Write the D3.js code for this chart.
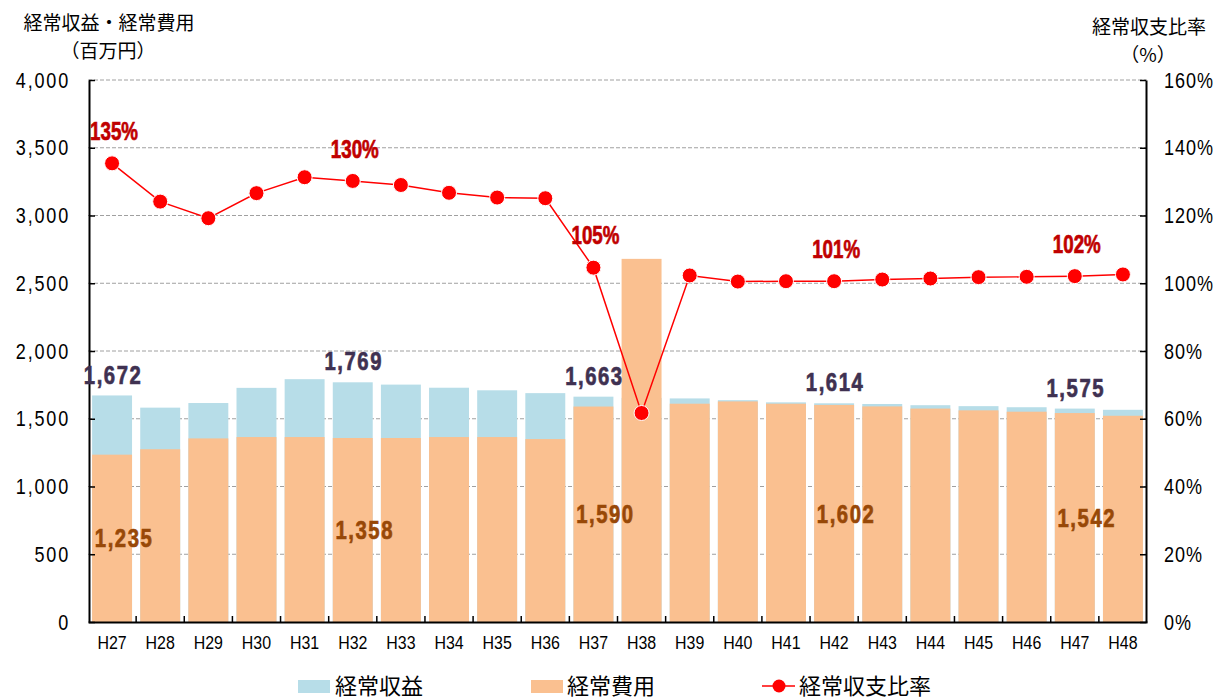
<!DOCTYPE html>
<html><head><meta charset="utf-8">
<script src="https://cdn.jsdelivr.net/npm/d3@7"></script>
<style>
body{margin:0;background:#fff;}
svg{display:block;}
.jp{font-family:"Noto Sans CJK JP","Noto Sans",sans-serif;}
.ls{font-family:"Liberation Sans",Arial,sans-serif;}
</style></head>
<body><svg id="c" width="1217" height="700"></svg>
<script>
const categories = ["H27","H28","H29","H30","H31","H32","H33","H34","H35","H36","H37","H38","H39","H40","H41","H42","H43","H44","H45","H46","H47","H48"];
const income  = [1672,1582,1616,1728,1792,1769,1752,1729,1710,1689,1663,1654,1650,1637,1621,1614,1609,1600,1593,1585,1575,1566];
const expense = [1235,1275,1355,1365,1365,1358,1358,1365,1365,1350,1590,2680,1611,1628,1611,1602,1591,1575,1562,1552,1542,1522];
const ratio   = [135.4,124.1,119.2,126.6,131.3,130.2,129.0,126.7,125.3,125.1,104.6,61.7,102.3,100.5,100.6,100.6,101.1,101.4,101.8,101.9,102.1,102.6];
const labelIdx = [0,5,10,15,20];
const leftTicks = [0,500,1000,1500,2000,2500,3000,3500,4000];
const rightTicks = [0,20,40,60,80,100,120,140,160];
const seriesNames = ["経常収益","経常費用","経常収支比率"];

const svg = d3.select("#c");
const L=88, R=1147, T=80, B=622;
const x = d3.scaleBand().domain(categories).range([L,R]).paddingInner(0.17).paddingOuter(0.085);
const yL = d3.scaleLinear().domain([0,4000]).range([B,T]);
const yR = d3.scaleLinear().domain([0,160]).range([B,T]);
const cx = d => x(d)+x.bandwidth()/2;
const fmt = d3.format(",");

// gridlines
svg.append("g").selectAll("line").data(leftTicks.filter(d=>d>0)).join("line")
  .attr("x1",L).attr("x2",R).attr("y1",d=>yL(d)).attr("y2",d=>yL(d))
  .attr("stroke","#a0a0a0").attr("stroke-width",1).attr("stroke-dasharray","4,2");

// bars
svg.append("g").selectAll("rect").data(categories).join("rect")
  .attr("x",d=>x(d)).attr("width",x.bandwidth())
  .attr("y",(d,i)=>yL(income[i])).attr("height",(d,i)=>B-yL(income[i]))
  .attr("fill","#b7dde8");
svg.append("g").selectAll("rect").data(categories).join("rect")
  .attr("x",d=>x(d)).attr("width",x.bandwidth())
  .attr("y",(d,i)=>yL(expense[i])).attr("height",(d,i)=>B-yL(expense[i]))
  .attr("fill","#fac090");

// axes
const sxT = 0.82;
const axL = d3.axisLeft(yL).tickValues(leftTicks).tickSizeInner(-6).tickSizeOuter(0).tickPadding(0).tickFormat(fmt);
const gL = svg.append("g").attr("transform",`translate(${L+1},0)`).call(axL);
const axR = d3.axisRight(yR).tickValues(rightTicks).tickSizeInner(-6).tickSizeOuter(0).tickPadding(0).tickFormat(d=>d+"%");
const gR = svg.append("g").attr("transform",`translate(${R-1},0)`).call(axR);
[gL,gR].forEach(g=>{
  g.select(".domain").attr("stroke","#000").attr("stroke-width",2);
  g.selectAll(".tick line").attr("stroke","#000").attr("stroke-width",1.5);
  g.selectAll("text").attr("class","ls").attr("font-size",22).attr("fill","#000").attr("x",0);
});
gL.selectAll(".tick text").attr("letter-spacing",2.2).attr("transform",`translate(-19,0) scale(${sxT},1)`);
gR.selectAll(".tick text").attr("letter-spacing",1.2).attr("transform",`translate(18,0) scale(${sxT},1)`);
const axB = d3.axisBottom(x).tickSize(0).tickPadding(0);
const gB = svg.append("g").attr("transform",`translate(0,${B})`).call(axB);
gB.select(".domain").attr("stroke","#000").attr("stroke-width",2);
gB.selectAll("text").attr("class","ls").attr("font-size",19).attr("fill","#000")
  .attr("y",0).attr("dy","0.35em").attr("transform","translate(0,20) scale(0.84,1)");
// x tick marks at band boundaries
svg.append("g").selectAll("line").data(categories.slice(1)).join("line")
  .attr("x1",d=>x(d)-x.step()*x.paddingInner()/2).attr("x2",d=>x(d)-x.step()*x.paddingInner()/2)
  .attr("y1",B).attr("y2",B-6).attr("stroke","#000").attr("stroke-width",1.5);

// line
const line = d3.line().x((d,i)=>cx(categories[i])).y(d=>yR(d));
svg.append("path").datum(ratio).attr("d",line).attr("fill","none").attr("stroke","#ff0000").attr("stroke-width",1.5);
svg.append("g").selectAll("circle").data(ratio).join("circle")
  .attr("cx",(d,i)=>cx(categories[i])).attr("cy",d=>yR(d)).attr("r",7.5)
  .attr("fill","#ff0000").attr("stroke","#fff").attr("stroke-width",1);

// data labels
const lab = svg.append("g").attr("class","ls").attr("font-weight","bold").attr("text-anchor","middle");
lab.selectAll(".li").data(labelIdx).join("text").attr("class","li")
  .attr("transform",i=>`translate(${cx(categories[i])+1},${yL(income[i])-21}) scale(0.78,1)`).attr("dy","0.35em")
  .attr("font-size",26).attr("fill","#3f3151").attr("stroke","#3f3151").attr("stroke-width",0.7)
  .attr("letter-spacing",2).text(i=>fmt(income[i]));
lab.selectAll(".le").data(labelIdx).join("text").attr("class","le")
  .attr("transform",i=>`translate(${cx(categories[i])+12},${(yL(expense[i])+B)/2}) scale(0.78,1)`).attr("dy","0.35em")
  .attr("font-size",26).attr("fill","#984807").attr("stroke","#984807").attr("stroke-width",0.7)
  .attr("letter-spacing",2).text(i=>fmt(expense[i]));
lab.selectAll(".lr").data(labelIdx).join("text").attr("class","lr")
  .attr("transform",i=>`translate(${cx(categories[i])+2},${yR(ratio[i])-32}) scale(0.75,1)`).attr("dy","0.35em")
  .attr("font-size",25).attr("fill","#c00000").attr("stroke","#c00000").attr("stroke-width",0.7)
  .text(i=>Math.round(ratio[i])+"%");

// axis titles
svg.append("text").attr("class","jp").attr("x",109).attr("y",23).attr("dy","0.35em").attr("text-anchor","middle").attr("font-size",19).text("経常収益・経常費用");
svg.append("text").attr("class","jp").attr("x",108).attr("y",51).attr("dy","0.35em").attr("text-anchor","middle").attr("font-size",19).text("（百万円）");
svg.append("text").attr("class","jp").attr("x",1149).attr("y",27).attr("dy","0.35em").attr("text-anchor","middle").attr("font-size",19).text("経常収支比率");
svg.append("text").attr("class","jp").attr("x",1148).attr("y",55).attr("dy","0.35em").attr("text-anchor","middle").attr("font-size",19).text("（%）");

// legend
const lg = svg.append("g");
lg.append("rect").attr("x",298).attr("y",680).attr("width",32).attr("height",13).attr("fill","#b7dde8");
lg.append("text").attr("class","jp").attr("x",335).attr("y",686).attr("dy","0.35em").attr("font-size",22).text(seriesNames[0]);
lg.append("rect").attr("x",531).attr("y",680).attr("width",32).attr("height",13).attr("fill","#fac090");
lg.append("text").attr("class","jp").attr("x",567).attr("y",686).attr("dy","0.35em").attr("font-size",22).text(seriesNames[1]);
lg.append("line").attr("x1",762).attr("x2",795).attr("y1",686).attr("y2",686).attr("stroke","#ff0000").attr("stroke-width",1.5);
lg.append("circle").attr("cx",779).attr("cy",686).attr("r",6.5).attr("fill","#ff0000");
lg.append("text").attr("class","jp").attr("x",799).attr("y",686).attr("dy","0.35em").attr("font-size",22).text(seriesNames[2]);
</script></body></html>
